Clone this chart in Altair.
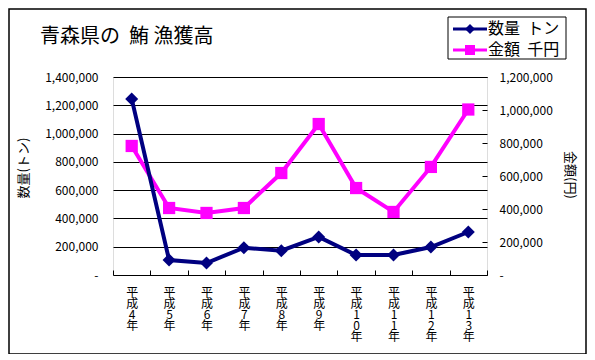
import altair as alt
import pandas as pd

# ---- data ----
years = ["平成4年", "平成5年", "平成6年", "平成7年", "平成8年",
         "平成9年", "平成10年", "平成11年", "平成12年", "平成13年"]
quantity = [1245000, 106000, 85000, 193000, 172000, 269000, 141000, 141000, 198000, 304000]
amount = [782000, 406000, 376000, 406000, 618000, 915000, 527000, 382000, 655000, 1003000]
left_ticks = [0, 200000, 400000, 600000, 800000, 1000000, 1200000, 1400000]
right_ticks = [0, 200000, 400000, 600000, 800000, 1000000, 1200000]
title_text = ["青森県の\u00a0\u00a0鮪 漁獲高"]
series_names = ["数量\u00a0\u00a0トン", "金額\u00a0\u00a0千円"]
left_title = ["数量(トン)"]
right_title = ["金額(円)"]

FONT = "Noto Sans CJK JP"
NAVY = "#000080"
MAGENTA = "#FF00FF"
W, H = 374, 198

df = pd.DataFrame({"year": years, "qty": quantity, "amt": amount})

x_enc = alt.X(
    "year:N", sort=years, bandPosition=0.5,
    scale=alt.Scale(type="band", paddingInner=0, paddingOuter=0),
    axis=alt.Axis(title=None, orient="bottom", offset=-5, domain=False,
                  ticks=True, tickSize=5, tickColor="black", tickBand="extent",
                  labelExpr="split(datum.label, '')", labelAngle=0,
                  labelPadding=12, labelFont=FONT, labelFontSize=12,
                  labelLineHeight=11, labelColor="black", labelBaseline="top",
                  labelOverlap=False, labelLimit=200, grid=False),
)

y_left = alt.Y(
    "qty:Q",
    scale=alt.Scale(domain=[0, 1400000], nice=False, zero=True),
    axis=alt.Axis(title=None, orient="left", values=left_ticks, format=",d",
                  labelExpr="datum.value == 0 ? '-' : datum.label",
                  domain=False, ticks=False, tickSize=0, labelPadding=15,
                  grid=True, gridColor="black", gridOpacity=1, gridWidth=1,
                  labelFont=FONT, labelFontSize=12, labelColor="black"),
)

y_right = alt.Y(
    "amt:Q",
    scale=alt.Scale(domain=[0, 1200000], nice=False, zero=True),
    axis=alt.Axis(title=None, orient="right", values=right_ticks, format=",d",
                  labelExpr="datum.value == 0 ? '-' : datum.label",
                  offset=-5, domain=False, ticks=True, tickSize=5,
                  tickColor="black", labelPadding=12, grid=False,
                  labelFont=FONT, labelFontSize=12, labelColor="black"),
)

amt_line = alt.Chart(df).mark_line(
    color=MAGENTA, strokeWidth=4,
    point=alt.OverlayMarkDef(shape="square", size=150, filled=True,
                             color=MAGENTA, opacity=1),
).encode(x=x_enc, y=y_right)

qty_line = alt.Chart(df).mark_line(
    color=NAVY, strokeWidth=4,
    point=alt.OverlayMarkDef(shape="diamond", size=170, filled=True,
                             color=NAVY, opacity=1),
).encode(x=x_enc, y=y_left)

# ---- decorations ----
one = pd.DataFrame({"t": [0]})

border = alt.Chart(one).mark_rect(
    fillOpacity=0, stroke="black", strokeWidth=1.5
).encode(x=alt.value(-104), x2=alt.value(473), y=alt.value(-68), y2=alt.value(277))

title = alt.Chart(pd.DataFrame({"t": title_text})).mark_text(
    align="left", baseline="alphabetic", font=FONT, fontSize=20, color="black"
).encode(x=alt.value(-73), y=alt.value(-34), text="t:N")

ltitle = alt.Chart(pd.DataFrame({"t": left_title})).mark_text(
    align="center", baseline="middle", font=FONT, fontSize=13, color="black", angle=270
).encode(x=alt.value(-89), y=alt.value(91), text="t:N")

rtitle = alt.Chart(pd.DataFrame({"t": right_title})).mark_text(
    align="center", baseline="middle", font=FONT, fontSize=13, color="black", angle=90
).encode(x=alt.value(457), y=alt.value(98), text="t:N")

legend_box = alt.Chart(one).mark_rect(
    fill="white", stroke="black", strokeWidth=1
).encode(x=alt.value(335), x2=alt.value(453), y=alt.value(-60), y2=alt.value(-18))

legend_layers = []
for name, color, shape, size, yy in [
    (series_names[0], NAVY, "diamond", 100, -48),
    (series_names[1], MAGENTA, "square", 100, -27),
]:
    d = pd.DataFrame({"t": [name]})
    legend_layers.append(alt.Chart(d).mark_rule(color=color, strokeWidth=3).encode(
        x=alt.value(340), x2=alt.value(374), y=alt.value(yy)))
    legend_layers.append(alt.Chart(d).mark_point(
        shape=shape, size=size, filled=True, color=color, opacity=1).encode(
        x=alt.value(357), y=alt.value(yy)))
    legend_layers.append(alt.Chart(d).mark_text(
        align="left", baseline="middle", font=FONT, fontSize=16, color="black").encode(
        x=alt.value(375), y=alt.value(yy), text="t:N"))

chart = alt.layer(
    amt_line, qty_line, border, title, ltitle, rtitle, legend_box, *legend_layers
).resolve_scale(y="independent").properties(
    width=W, height=H,
    padding={"left": 105, "top": 69, "right": 100, "bottom": 79},
    autosize=alt.AutoSizeParams(type="none"),
).configure_view(
    fill="#d9d9d9", stroke="black", strokeWidth=1
).configure(font=FONT, background="white")

chart.save("out.html", embed_options={"renderer": "svg", "actions": False})
